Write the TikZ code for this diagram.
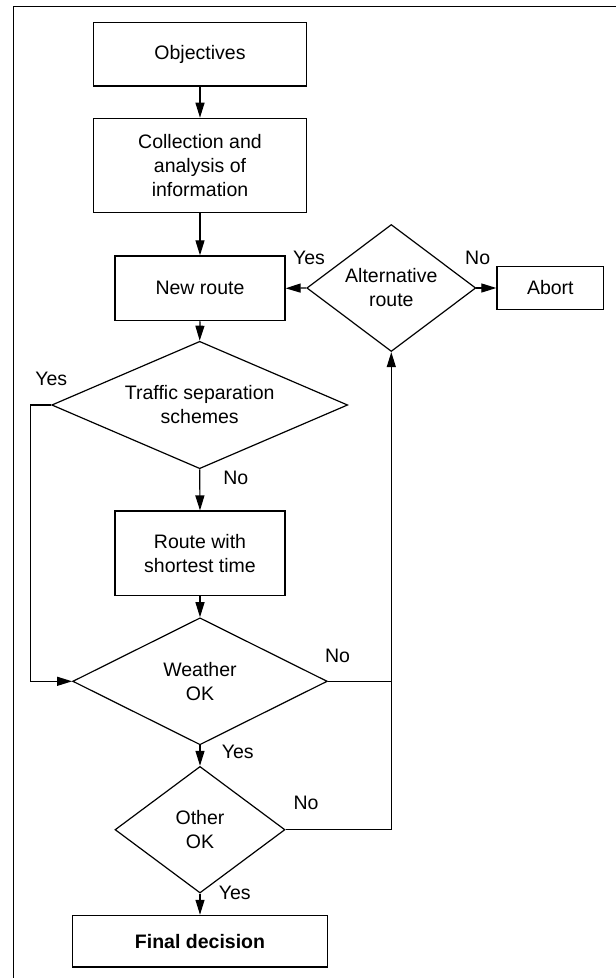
\documentclass[tikz,border=0pt]{standalone}
\usepackage{fontspec}
\setmainfont{Liberation Sans}
\usetikzlibrary{shapes.geometric,arrows.meta}
\begin{document}
\begin{tikzpicture}[x=1bp,y=-1bp,
  every node/.style={font=\fontsize{19.5bp}{24bp}\selectfont},
  box/.style={draw, line width=1.2bp, rectangle, inner sep=0pt, align=center},
  dec/.style={draw, line width=1.2bp, diamond, inner sep=0pt, align=center},
  lbl/.style={inner sep=0pt},
  conn/.style={line width=1.2bp},
  arr/.style={conn, -{Triangle[length=15bp,width=9bp]}}]
\useasboundingbox (0,0) rectangle (616,978);
\draw[line width=1.5bp] (13.3,978) -- (13.3,6.7) -- (616,6.7);

\node[box, minimum width=213.4bp, minimum height=63.3bp] (obj) at (200,54.3) {Objectives};
\node[box, minimum width=213.4bp, minimum height=94.4bp] (coll) at (200,165.5) {Collection and\\analysis of\\information};
\node[box, minimum width=170bp, minimum height=64.7bp] (newr) at (200,288.3) {New route};
\node[dec, minimum width=169bp, minimum height=127bp, aspect=1.33] (alt) at (391.3,288) {Alternative\\route};
\node[box, minimum width=106.7bp, minimum height=42.6bp] (abort) at (550.3,288) {Abort};
\node[dec, minimum width=296bp, minimum height=127.4bp, aspect=2.32] (tss) at (199.7,405) {Traffic separation\\schemes};
\node[box, minimum width=170bp, minimum height=84.3bp] (route) at (200,553.2) {Route with\\shortest time};
\node[dec, minimum width=254.6bp, minimum height=127bp, aspect=2] (wx) at (200,681.3) {Weather\\OK};
\node[dec, minimum width=170bp, minimum height=126.6bp, aspect=1.34] (oth) at (200,829.7) {Other\\OK};
\node[box, minimum width=254.6bp, minimum height=51.7bp, font=\fontsize{19.5bp}{24bp}\selectfont\bfseries] (fin) at (200,941.2) {Final decision};

\coordinate (tssL) at (30.7,405);
\coordinate (wxL) at (30.7,681.3);
\coordinate (vR) at (391.3,681.3);
\coordinate (othR) at (391.3,829.7);

\draw[arr] (obj.south) -- (coll.north);
\draw[arr] (coll.south) -- (newr.north);
\draw[arr] (newr.south) -- (tss.north);
\draw[arr] (tss.south) -- (route.north);
\draw[arr] (route.south) -- (wx.north);
\draw[arr] (wx.south) -- (oth.north);
\draw[arr] (oth.south) -- (fin.north);
\draw[arr] (tss.west) -- (tssL) -- (wxL) -- (wx.west);
\draw[conn] (wx.east) -- (vR);
\draw[arr] (oth.east) -- (othR) -- (alt.south);
\draw[arr] (alt.west) -- (newr.east);
\draw[arr] (alt.east) -- (abort.west);

\node[lbl] (lYesAlt) at (309,258) {Yes};
\node[lbl] (lNoAlt) at (477.7,258) {No};
\node[lbl] (lYesTss) at (51.3,378.7) {Yes};
\node[lbl] (lNoTss) at (235.8,477.7) {No};
\node[lbl] (lNoWx) at (337.5,656) {No};
\node[lbl] (lYesWx) at (237.7,752) {Yes};
\node[lbl] (lNoOth) at (306,803.3) {No};
\node[lbl] (lYesOth) at (234.7,892.7) {Yes};
\end{tikzpicture}
\end{document}
